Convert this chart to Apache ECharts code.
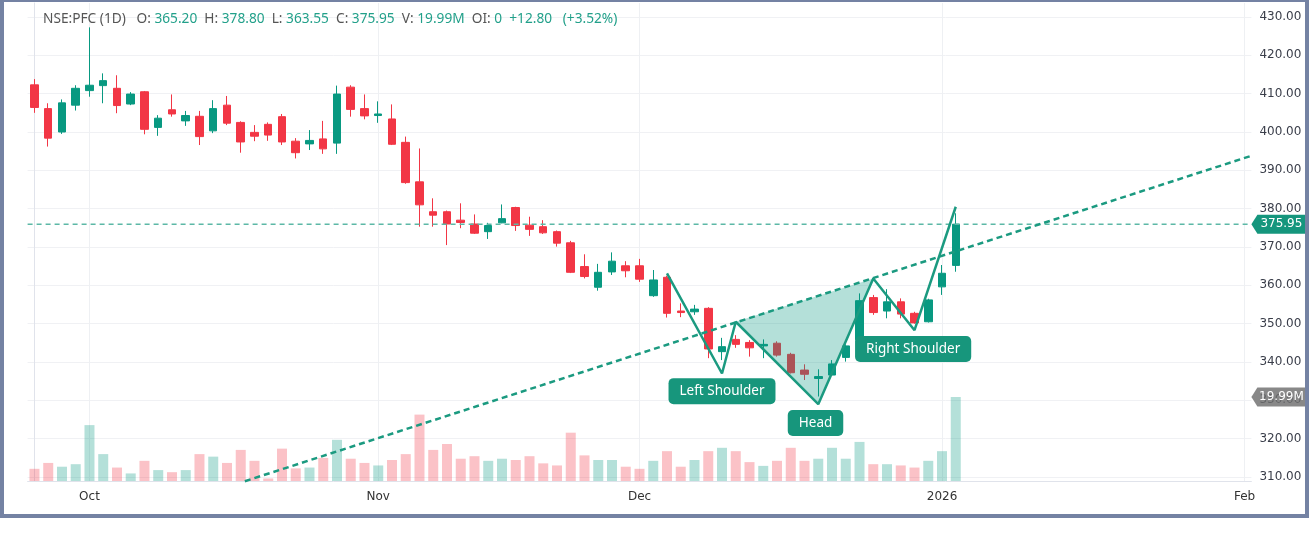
<!DOCTYPE html>
<html>
<head>
<meta charset="utf-8">
<script src="https://cdn.jsdelivr.net/npm/echarts@6/dist/echarts.min.js"></script>
<style>
  html, body { margin: 0; padding: 0; background: #fff; }
  #chart { width: 1309px; height: 545px; }
  #frame {
    position: absolute; left: 0; top: 0; width: 1309px; height: 518px;
    box-sizing: border-box; border: solid #7482a3; border-width: 2px 4px 4px 4px;
    pointer-events: none;
  }
</style>
</head>
<body>
<div id="chart"></div>
<div id="frame"></div>
<script>
// trading days shown (NSE:PFC, daily)
const dates = [
  '2025-09-25', '2025-09-26', '2025-09-29', '2025-09-30',
  '2025-10-01', '2025-10-03', '2025-10-06', '2025-10-07', '2025-10-08', '2025-10-09', '2025-10-10',
  '2025-10-13', '2025-10-14', '2025-10-15', '2025-10-16', '2025-10-17', '2025-10-20', '2025-10-21',
  '2025-10-23', '2025-10-24', '2025-10-27', '2025-10-28', '2025-10-29', '2025-10-30', '2025-10-31',
  '2025-11-03', '2025-11-04', '2025-11-06', '2025-11-07', '2025-11-10', '2025-11-11', '2025-11-12',
  '2025-11-13', '2025-11-14', '2025-11-17', '2025-11-18', '2025-11-19', '2025-11-20', '2025-11-21',
  '2025-11-24', '2025-11-25', '2025-11-26', '2025-11-27', '2025-11-28',
  '2025-12-01', '2025-12-02', '2025-12-03', '2025-12-04', '2025-12-05', '2025-12-08', '2025-12-09',
  '2025-12-10', '2025-12-11', '2025-12-12', '2025-12-15', '2025-12-16', '2025-12-17', '2025-12-18',
  '2025-12-19', '2025-12-22', '2025-12-23', '2025-12-24', '2025-12-26', '2025-12-29', '2025-12-30',
  '2025-12-31', '2026-01-01', '2026-01-02'
];
// empty space to the right of the last bar
const futureDates = [
  '2026-01-05', '2026-01-06', '2026-01-07', '2026-01-08', '2026-01-09',
  '2026-01-12', '2026-01-13', '2026-01-14', '2026-01-15', '2026-01-16',
  '2026-01-19', '2026-01-20', '2026-01-21', '2026-01-22', '2026-01-23',
  '2026-01-26', '2026-01-27', '2026-01-28', '2026-01-29', '2026-01-30',
  '2026-02-02'
];

const opens = [
  412.3, 406.1, 400.0, 407.0, 410.8, 412.1, 411.4, 407.3, 410.5, 401.2,
  405.8, 402.9, 404.1, 400.3, 407.0, 402.5, 399.9, 402.0, 404.0, 397.6,
  396.9, 398.2, 397.1, 411.7, 406.1, 404.3, 403.4, 397.3, 387.0, 379.2,
  379.2, 377.0, 376.0, 374.0, 376.3, 380.3, 375.7, 375.3, 374.0, 371.1,
  364.9, 359.5, 363.5, 365.1, 365.1, 357.3, 362.1, 353.3, 353.1, 354.0,
  342.7, 345.9, 345.1, 344.2, 344.9, 342.0, 337.9, 335.7, 336.6, 341.2,
  345.8, 356.8, 353.3, 355.7, 352.7, 350.5, 359.6, 365.20
];
const highs = [
  413.8, 407.5, 408.5, 412.2, 427.3, 415.3, 414.8, 410.4, 410.7, 404.4,
  409.8, 405.5, 405.5, 408.3, 409.4, 402.8, 401.8, 402.5, 404.7, 398.4,
  400.5, 402.9, 412.1, 412.2, 409.8, 408.0, 407.2, 398.8, 395.7, 382.7,
  379.5, 381.4, 378.5, 376.3, 381.1, 380.5, 377.9, 377.0, 374.3, 371.6,
  368.1, 365.6, 368.6, 366.3, 366.9, 364.0, 362.5, 355.3, 354.9, 354.3,
  346.3, 347.0, 345.7, 345.9, 345.4, 342.4, 339.4, 338.1, 340.5, 344.6,
  357.9, 357.5, 359.0, 356.6, 353.1, 356.5, 365.3, 378.80
];
const lows = [
  405.0, 396.2, 399.5, 405.6, 409.2, 407.5, 404.9, 407.0, 399.4, 399.0,
  404.0, 401.6, 396.6, 399.7, 401.8, 394.6, 397.6, 397.7, 396.6, 393.1,
  395.3, 394.3, 394.3, 404.0, 403.3, 402.4, 396.6, 386.5, 375.3, 375.3,
  370.5, 374.9, 373.4, 372.1, 376.2, 374.2, 372.9, 373.4, 370.1, 363.2,
  361.8, 358.6, 362.7, 362.1, 360.9, 357.0, 351.6, 351.7, 352.3, 341.0,
  340.5, 343.7, 341.4, 341.0, 341.4, 337.0, 335.3, 331.0, 336.4, 340.1,
  344.5, 352.3, 351.4, 351.4, 350.0, 350.3, 357.5, 363.55
];
const closes = [
  406.4, 398.4, 407.6, 411.4, 412.2, 413.4, 406.9, 409.9, 400.7, 403.6,
  404.7, 404.3, 398.8, 406.1, 402.3, 397.4, 398.9, 399.2, 397.4, 394.6,
  397.8, 395.6, 409.9, 405.9, 404.2, 404.7, 396.8, 386.8, 381.0, 378.3,
  376.0, 376.4, 373.6, 375.6, 377.4, 375.6, 374.6, 373.7, 371.0, 363.4,
  362.3, 363.4, 366.3, 363.8, 361.6, 361.4, 352.7, 352.9, 353.8, 343.4,
  344.0, 344.6, 343.7, 344.6, 341.8, 337.2, 336.8, 336.2, 339.5, 344.2,
  356.0, 352.9, 355.7, 352.5, 350.2, 356.2, 363.15, 375.95
];
// volume in millions
const volumes = [
  2.9, 4.3, 3.4, 4.0, 13.3, 6.4, 3.2, 1.8, 4.8, 2.6,
  2.1, 2.6, 6.4, 5.8, 4.3, 7.4, 4.8, 0.6, 7.7, 3.0,
  3.2, 5.5, 9.8, 5.3, 4.3, 3.7, 5.0, 6.4, 15.8, 7.4,
  8.8, 5.3, 5.9, 4.8, 5.3, 5.0, 5.9, 4.2, 3.7, 11.5,
  6.1, 5.0, 5.0, 3.4, 2.9, 4.8, 7.1, 3.4, 5.0, 7.1,
  7.9, 7.1, 4.5, 3.6, 4.8, 7.9, 4.8, 5.3, 7.9, 5.3,
  9.3, 4.0, 4.0, 3.7, 3.2, 4.8, 7.1, 19.99
];

// inverse head & shoulders drawing (bar index, price)
const patternX = [46, 50, 51, 57, 61, 64, 67];
const patternY = [363.1, 337.0, 350.5, 329.0, 361.8, 348.3, 380.5];
const fillX = [51, 57, 61];
const fillY = [350.5, 329.0, 361.8];
const necklineX = [15.3, 88.5];
const necklineY = [308.9, 393.8];
const labelNames = ['Left Shoulder', 'Head', 'Right Shoulder'];
const labelX = [50.0, 56.8, 63.9];
const labelY = [332.4, 324.1, 343.4];

const monthNames = ['Jan', 'Feb', 'Mar', 'Apr', 'May', 'Jun', 'Jul', 'Aug', 'Sep', 'Oct', 'Nov', 'Dec'];

const GREEN = '#089981';
const RED = '#f23645';
const TEAL = '#1b9a80';

const allDates = dates.concat(futureDates);
const n = dates.length;
const last = n - 1;
const xMax = allDates.length - 0.5;

// month label on the first trading day of each month
const tickLabels = allDates.map((d, i) => {
  if (i === 0 || d.slice(5, 7) === allDates[i - 1].slice(5, 7)) return '';
  const m = +d.slice(5, 7);
  return m === 1 ? d.slice(0, 4) : monthNames[m - 1];
});
const monthStarts = [];
tickLabels.forEach((t, i) => { if (t) monthStarts.push(i); });

const candles = dates.map((d, i) => [opens[i], closes[i], lows[i], highs[i]]);
const volData = volumes.map((v, i) => ({
  value: v,
  itemStyle: { color: closes[i] >= opens[i] ? 'rgba(8,153,129,0.3)' : 'rgba(242,54,69,0.3)' }
}));

const chg = closes[last] - closes[last - 1];
const pct = chg / closes[last - 1] * 100;
const sign = v => (v >= 0 ? '+' : '') + v.toFixed(2);
const header =
  '{g|NSE:PFC (1D)}   {g|O:} {t|' + opens[last].toFixed(2) + '}  {g|H:} {t|' + highs[last].toFixed(2) +
  '}  {g|L:} {t|' + lows[last].toFixed(2) + '}  {g|C:} {t|' + closes[last].toFixed(2) +
  '}  {g|V:} {t|' + volumes[last].toFixed(2) + 'M}  {g|OI:} {t|0}  {t|' + sign(chg) + '}   {t|(' + sign(pct) + '%)}';

const gridL = 27.6, gridR = 57.6;
const tagPath = 'path://M0,9.5 L6,0 L54,0 L54,19 L6,19 Z';

const chart = echarts.init(document.getElementById('chart'));
chart.setOption({
  animation: false,
  backgroundColor: '#fff',
  title: {
    left: 38, top: 7,
    text: header,
    textStyle: {
      fontFamily: 'Noto Sans', fontSize: 13.7, fontWeight: 'normal',
      rich: {
        g: { color: '#555', fontFamily: 'Noto Sans', fontSize: 13.7 },
        t: { color: '#22a08a', fontFamily: 'Noto Sans', fontSize: 13.7 }
      }
    }
  },
  grid: [
    { left: gridL, right: gridR, top: 17, height: 460 },   // price
    { left: gridL, right: gridR, top: 397, height: 84 },   // volume
    { left: gridL, right: gridR, top: 3, height: 478 }     // frame, x labels
  ],
  xAxis: [
    { type: 'category', gridIndex: 0, data: allDates, show: false },
    { type: 'category', gridIndex: 1, data: allDates, show: false },
    {
      type: 'category', gridIndex: 2, data: allDates,
      axisLine: { lineStyle: { color: '#e0e3eb' } },
      axisTick: { show: false },
      splitLine: { show: false },
      axisLabel: {
        interval: i => tickLabels[i] !== '',
        formatter: (v, i) => tickLabels[i],
        color: '#333', fontFamily: 'DejaVu Sans', fontSize: 12, margin: 10
      }
    },
    { type: 'value', gridIndex: 0, min: -0.5, max: xMax, show: false },
    { type: 'value', gridIndex: 1, min: -0.5, max: xMax, show: false },
    { type: 'value', gridIndex: 2, min: -0.5, max: xMax, show: false }
  ],
  yAxis: [
    {
      type: 'value', gridIndex: 0, position: 'right', min: 310, max: 430, interval: 10,
      axisLine: { show: false }, axisTick: { show: false },
      splitLine: { lineStyle: { color: '#f0f1f4' } },
      axisLabel: {
        formatter: v => v.toFixed(2), color: '#3a3e4a',
        fontFamily: 'DejaVu Sans', fontSize: 12, margin: 8
      }
    },
    { type: 'value', gridIndex: 1, min: 0, max: 19.99, show: false },
    {
      type: 'value', gridIndex: 2, position: 'right', min: 0, max: 1,
      axisLine: { show: true, lineStyle: { color: '#e0e3eb' } },
      axisTick: { show: false }, axisLabel: { show: false }, splitLine: { show: false }
    }
  ],
  series: [
    {
      name: 'months', type: 'line', xAxisIndex: 5, yAxisIndex: 2, data: [], z: 0,
      markLine: {
        silent: true, symbol: ['none', 'none'], label: { show: false }, z: 0,
        lineStyle: { color: '#eef0f3', type: 'solid', width: 1 },
        data: monthStarts.map(i => ({ xAxis: i }))
      }
    },
    {
      name: 'volume', type: 'bar', xAxisIndex: 1, yAxisIndex: 1,
      barWidth: 10, data: volData, z: 1
    },
    {
      name: 'PFC', type: 'candlestick', xAxisIndex: 0, yAxisIndex: 0,
      barWidth: 8, data: candles, z: 3,
      itemStyle: { color: GREEN, color0: RED, borderColor: GREEN, borderColor0: RED, borderWidth: 1 }
    },
    {
      name: 'last', type: 'line', xAxisIndex: 3, yAxisIndex: 0,
      data: [[-0.5, closes[last]], [xMax, closes[last]]],
      symbol: 'none', z: 4,
      lineStyle: { color: '#5cb8a6', width: 1.5, type: [5, 4] },
      markPoint: {
        silent: true, symbol: tagPath, symbolSize: [54, 19], symbolOffset: [27, 0],
        symbolKeepAspect: false,
        itemStyle: { color: '#15967d' },
        label: {
          show: true, formatter: closes[last].toFixed(2), color: '#fff',
          fontFamily: 'DejaVu Sans', fontSize: 12, offset: [3, 0]
        },
        data: [{ coord: [xMax, closes[last]] }]
      }
    },
    {
      name: 'volTag', type: 'line', xAxisIndex: 4, yAxisIndex: 1, data: [],
      markPoint: {
        silent: true, symbol: tagPath, symbolSize: [54, 19], symbolOffset: [27, 0],
        symbolKeepAspect: false,
        itemStyle: { color: 'rgba(110,110,110,0.82)' },
        label: {
          show: true, formatter: volumes[last].toFixed(2) + 'M', color: '#fff',
          fontFamily: 'DejaVu Sans', fontSize: 12, offset: [3, 0]
        },
        data: [{ coord: [xMax, volumes[last]] }]
      }
    },
    {
      name: 'fill', type: 'custom', xAxisIndex: 3, yAxisIndex: 0, z: 5,
      data: [[fillX[0], fillY[0]]],
      renderItem: (params, api) => ({
        type: 'polygon',
        shape: { points: fillX.map((x, i) => api.coord([x, fillY[i]])) },
        style: { fill: 'rgba(8,153,129,0.3)' }
      })
    },
    {
      name: 'neckline', type: 'line', xAxisIndex: 3, yAxisIndex: 0, z: 6, clip: false,
      data: necklineX.map((x, i) => [x, necklineY[i]]),
      symbol: 'none',
      lineStyle: { color: TEAL, width: 2.5, type: [6, 4] }
    },
    {
      name: 'pattern', type: 'line', xAxisIndex: 3, yAxisIndex: 0, z: 7, clip: false,
      data: patternX.map((x, i) => [x, patternY[i]]),
      symbol: 'none',
      lineStyle: { color: TEAL, width: 2.5 }
    },
    {
      name: 'labels', type: 'scatter', xAxisIndex: 3, yAxisIndex: 0, z: 8,
      data: labelNames.map((t, i) => [labelX[i], labelY[i], t]),
      symbolSize: 1, itemStyle: { color: 'rgba(0,0,0,0)', opacity: 1 },
      label: {
        show: true, position: 'inside', formatter: p => p.data[2],
        color: '#fff', fontFamily: 'Noto Sans', fontSize: 13.5, opacity: 1,
        backgroundColor: '#17967c', borderRadius: 5, padding: [6, 11]
      }
    }
  ]
});
</script>
</body>
</html>
